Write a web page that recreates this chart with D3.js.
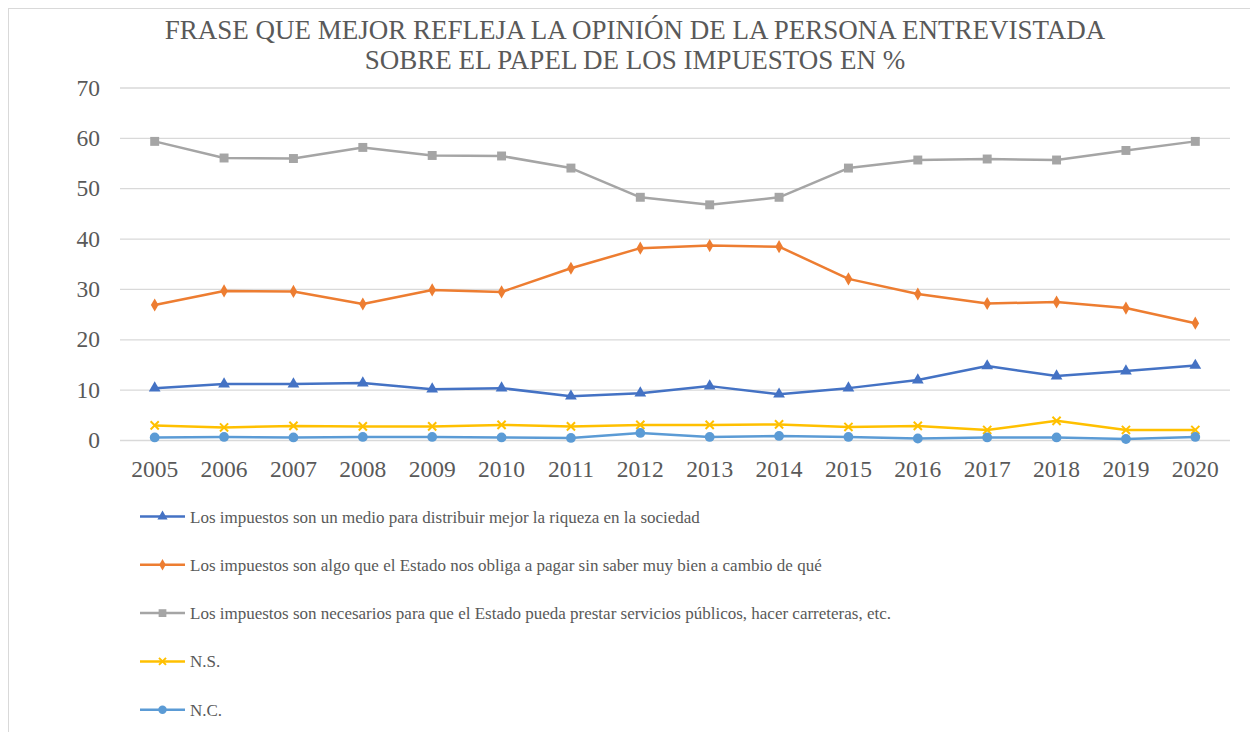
<!DOCTYPE html>
<html>
<head>
<meta charset="utf-8">
<script src="https://cdn.jsdelivr.net/npm/d3@7"></script>
</head>
<body style="margin:0; background:#fff">
<script>
// data
var years = ["2005","2006","2007","2008","2009","2010","2011","2012","2013","2014","2015","2016","2017","2018","2019","2020"];
var distribuir = [10.3,11.1,11.1,11.3,10.1,10.3,8.7,9.3,10.7,9.1,10.3,11.9,14.7,12.7,13.7,14.8];
var obliga = [26.8,29.6,29.5,27.0,29.8,29.4,34.1,38.1,38.6,38.4,32.0,29.0,27.1,27.4,26.2,23.2];
var necesarios = [59.3,56.0,55.9,58.1,56.5,56.4,54.0,48.2,46.7,48.2,54.0,55.6,55.8,55.6,57.5,59.3];
var ns = [2.9,2.5,2.8,2.7,2.7,3.0,2.7,3.0,3.0,3.1,2.6,2.8,2.0,3.8,2.0,2.0];
var nc = [0.5,0.6,0.5,0.6,0.6,0.5,0.4,1.4,0.6,0.8,0.6,0.3,0.5,0.5,0.2,0.6];
var yTicks = [0,10,20,30,40,50,60,70];
var titleLines = ["FRASE QUE MEJOR REFLEJA LA OPINIÓN DE LA PERSONA ENTREVISTADA",
                  "SOBRE EL PAPEL DE LOS IMPUESTOS EN %"];

var series = [
  {name: "Los impuestos son un medio para distribuir mejor la riqueza en la sociedad", values: distribuir, color: "#4472C4", symbol: d3.symbolTriangle, size: 60},
  {name: "Los impuestos son algo que el Estado nos obliga a pagar sin saber muy bien a cambio de qué", values: obliga, color: "#ED7D31", symbol: d3.symbolDiamond, size: 50},
  {name: "Los impuestos son necesarios para que el Estado pueda prestar servicios públicos, hacer carreteras, etc.", values: necesarios, color: "#A5A5A5", symbol: d3.symbolSquare, size: 80},
  {name: "N.S.", values: ns, color: "#FFC000", symbol: d3.symbolX, size: 45},
  {name: "N.C.", values: nc, color: "#5B9BD5", symbol: d3.symbolCircle, size: 75}
];

var FONT = "Liberation Serif";
var W = 1250, H = 732;
var margin = {top: 87.5, right: 20, bottom: 292, left: 120},
    width = 1230 - margin.left,
    height = H - margin.top - margin.bottom;

var svg = d3.select("body").append("svg")
    .attr("width", W)
    .attr("height", H)
    .attr("font-family", FONT)
    .style("display", "block");

function serif(sel) {
  sel.attr("font-family", FONT).style("font-family", FONT);
}

// outer border
svg.append("rect")
    .attr("x", 8.5).attr("y", 8.5)
    .attr("width", W + 10).attr("height", H + 10)
    .attr("fill", "none")
    .attr("stroke", "#d9d9d9");

// title
var title = svg.append("text")
    .attr("x", 635).attr("y", 39.3)
    .attr("text-anchor", "middle")
    .attr("fill", "#595959")
    .attr("font-size", 27)
    .call(serif);
title.selectAll("tspan").data(titleLines).enter().append("tspan")
    .attr("x", 635)
    .attr("dy", function(d, i) { return i ? 30 : 0; })
    .text(function(d) { return d; });

var g = svg.append("g")
    .attr("transform", "translate(" + margin.left + "," + margin.top + ")");

var x = d3.scaleBand().domain(years).range([0, width]);
var y = d3.scaleLinear().domain([0, 70]).range([height, 0]);

// gridlines + y labels
var yAxis = d3.axisLeft(y).tickValues(yTicks).tickSize(-width).tickPadding(20);
var ya = g.append("g").attr("class", "y axis").call(yAxis).attr("font-size", 23.5);
ya.select(".domain").remove();
ya.selectAll(".tick line").attr("stroke", "#d9d9d9").attr("stroke-width", 1.3);
ya.selectAll(".tick text").attr("fill", "#595959").call(serif);

var xAxis = d3.axisBottom(x).tickSize(0).tickPadding(20);
var xa = g.append("g").attr("class", "x axis")
    .attr("transform", "translate(0," + height + ")")
    .call(xAxis).attr("font-size", 23.5);
xa.select(".domain").remove();
xa.selectAll(".tick text").attr("fill", "#595959").call(serif);

var line = d3.line()
    .x(function(d, i) { return x(years[i]) + x.bandwidth() / 2; })
    .y(function(d) { return y(d); });

series.forEach(function(s) {
  g.append("path")
      .attr("d", line(s.values))
      .attr("fill", "none")
      .attr("stroke", s.color)
      .attr("stroke-width", 2.5)
      .attr("stroke-linejoin", "round");
  g.selectAll(null).data(s.values).enter().append("path")
      .attr("transform", function(d, i) {
        return "translate(" + (x(years[i]) + x.bandwidth() / 2) + "," + y(d) + ")";
      })
      .attr("d", d3.symbol().type(s.symbol).size(s.size))
      .attr("fill", s.color)
      .attr("stroke", s.color)
      .attr("stroke-width", s.symbol === d3.symbolX ? 2 : 0);
});

// legend
var legend = svg.append("g").attr("transform", "translate(140,516.5)");
series.forEach(function(s, i) {
  var row = legend.append("g").attr("transform", "translate(0," + (i * 48.3) + ")");
  row.append("line")
      .attr("x1", 0).attr("x2", 45)
      .attr("stroke", s.color).attr("stroke-width", 2.5);
  row.append("path")
      .attr("transform", "translate(22.5,0)")
      .attr("d", d3.symbol().type(s.symbol).size(s.size * 0.75))
      .attr("fill", s.color)
      .attr("stroke", s.color)
      .attr("stroke-width", s.symbol === d3.symbolX ? 2 : 0);
  row.append("text")
      .attr("x", 50).attr("y", 6)
      .attr("fill", "#595959")
      .attr("font-size", 17)
      .call(serif)
      .text(s.name);
});
</script>
</body>
</html>
